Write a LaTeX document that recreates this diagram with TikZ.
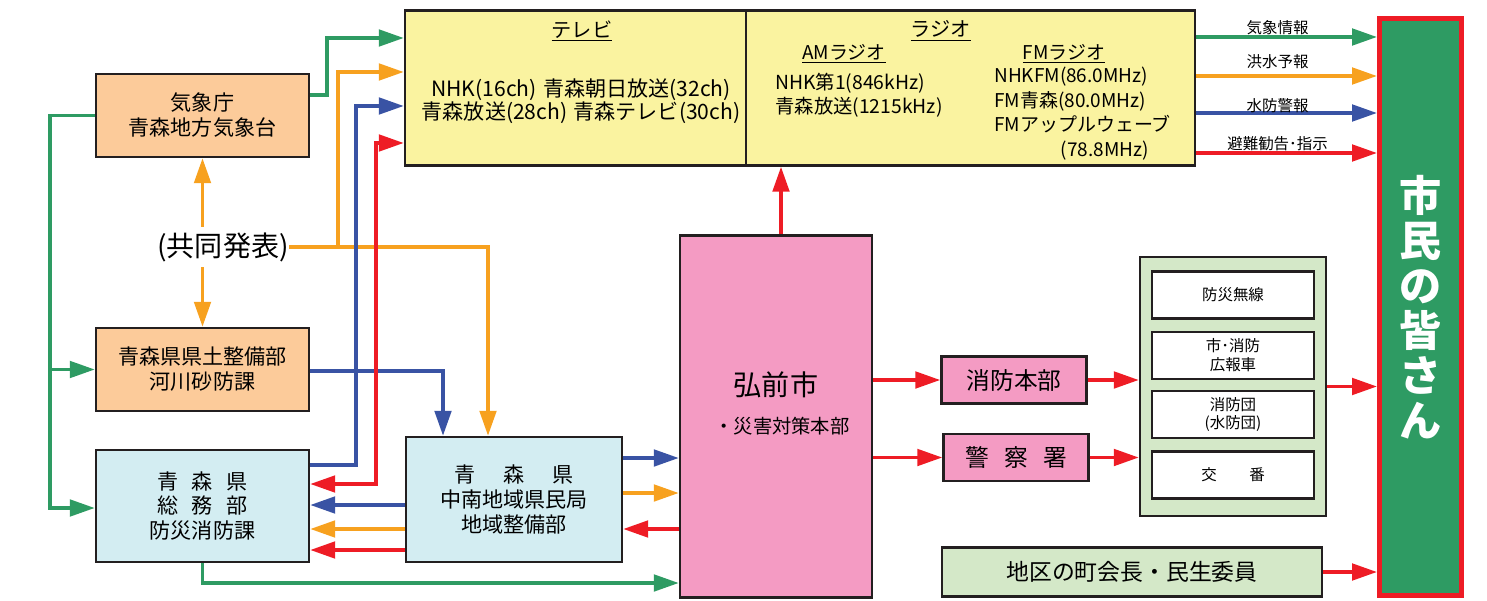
\documentclass[tikz,border=0pt]{standalone}
\usepackage{fontspec}
\setmainfont{Noto Sans CJK JP}
\usepackage{tikz}
\usetikzlibrary{arrows.meta}

\definecolor{kgreen}{HTML}{2E9B63}
\definecolor{korange}{HTML}{F7A11F}
\definecolor{kblue}{HTML}{3953A4}
\definecolor{kred}{HTML}{EE1C25}
\definecolor{boxline}{HTML}{231F20}
\definecolor{peach}{HTML}{FCCB9A}
\definecolor{lblue}{HTML}{D3EDF2}
\definecolor{pink}{HTML}{F49BC3}
\definecolor{tvyellow}{HTML}{FAF3A0}
\definecolor{lgreen}{HTML}{D4E8C8}

\newcommand{\pxfont}[2]{\fontsize{#1}{#2}\selectfont}

\begin{document}
\begin{tikzpicture}[x=0.02cm,y=-0.02cm,
    wh/.style 2 args={minimum width=#1*0.02cm, minimum height=#2*0.02cm},
    box/.style={draw=boxline, line width=1.4pt, inner sep=0pt, align=center},
    txt/.style={inner sep=0pt},
    headed/.style={-{Triangle[length=0.5cm,width=0.33cm]}},
    twoheaded/.style={{Triangle[length=0.5cm,width=0.33cm]}-{Triangle[length=0.5cm,width=0.33cm]}},
    gline/.style={draw=kgreen, line width=2pt},
    oline/.style={draw=korange, line width=2pt},
    bline/.style={draw=kblue, line width=2pt},
    rline/.style={draw=kred, line width=2pt},
    infolabel/.style={above, inner sep=0pt, pos=0.45, font=\pxfont{8.8pt}{10pt}}]
    \useasboundingbox (0,0) rectangle (1487,601);

    % media
    \node[box, fill=tvyellow, wh={341}{155}] (tv) at (575.5,88) {};
    \node[box, fill=tvyellow, wh={449}{155}] (radio) at (970.5,88) {};
    \node[txt, font=\pxfont{11.5pt}{12pt}] (tvtitle) at (582,31) {\underline{テレビ}};
    \node[txt, align=center, font=\pxfont{12pt}{13.1pt}] (tvlist) at (581,101.5)
        {NHK(16ch)\hspace{0.3em}青森朝日放送(32ch)\\青森放送(28ch)\hspace{0.3em}青森テレビ(30ch)};
    \node[txt, font=\pxfont{11.5pt}{12pt}] (radiotitle) at (941,31) {\underline{ラジオ}};
    \node[txt, font=\pxfont{10.8pt}{12pt}] (amtitle) at (844,54) {\underline{AMラジオ}};
    \node[txt, font=\pxfont{10.8pt}{12pt}] (fmtitle) at (1064,54) {\underline{FMラジオ}};
    \node[txt, align=left, anchor=west, font=\pxfont{11pt}{13.7pt}] (amlist) at (775,95)
        {NHK第1(846kHz)\\青森放送(1215kHz)};
    \node[txt, align=left, anchor=west, font=\pxfont{10.8pt}{13.9pt}] (fmlist) at (994,113.5)
        {NHKFM(86.0MHz)\\FM青森(80.0MHz)\\FMアップルウェーブ\\\hspace*{3.5em}(78.8MHz)};

    % prefecture
    \node[box, fill=peach, wh={213}{83}, font=\pxfont{12pt}{14.2pt}] (kishou) at (202.5,115.5)
        {気象庁\\青森地方気象台};
    \node[txt, inner ysep=3pt, font=\pxfont{16pt}{18pt}] (kyoudou) at (223,247) {(共同発表)};
    \node[box, fill=peach, wh={213}{83}, font=\pxfont{12pt}{14.2pt}] (kendo) at (202.5,369.5)
        {青森県県土整備部\\河川砂防課};
    \node[box, fill=lblue, wh={213}{112}, font=\pxfont{12pt}{13.7pt}] (soumu) at (202.5,506)
        {青\hspace{0.65em}森\hspace{0.65em}県\\総\hspace{0.65em}務\hspace{0.65em}部\\防災消防課};
    \node[box, fill=lblue, wh={216}{125}, font=\pxfont{12pt}{14pt}] (chunan) at (514,499.5)
        {青\hspace{1.33em}森\hspace{1.33em}県\\中南地域県民局\\地域整備部};

    % city
    \node[box, fill=pink, wh={192}{362}] (hirosaki) at (776,416.5) {};
    \node[txt, font=\pxfont{16pt}{18pt}] (hirotitle) at ([yshift=0.64cm]hirosaki.center) {弘前市};
    \node[txt, font=\pxfont{11pt}{13pt}] (hirosub) at ([xshift=0.12cm,yshift=-0.2cm]hirosaki.center) {・災害対策本部};
    \node[box, fill=pink, wh={145}{47}, font=\pxfont{13.5pt}{15pt}] (shoubou) at (1014,380) {消防本部};
    \node[box, fill=pink, wh={145}{47}, font=\pxfont{13.5pt}{15pt}] (keisatsu) at (1016,457.5)
        {警\hspace{0.65em}察\hspace{0.65em}署};

    % local channels
    \node[box, fill=lgreen, wh={186}{259}] (group) at (1233,386.5) {};
    \node[box, fill=white, wh={162}{47}, font=\pxfont{8.8pt}{10.8pt}] (musen) at (1233,295) {防災無線};
    \node[box, fill=white, wh={162}{47}, font=\pxfont{8.8pt}{10.8pt}] (kouhou) at (1233,355.5) {市･消防\\広報車};
    \node[box, fill=white, wh={162}{47}, font=\pxfont{8.8pt}{10.8pt}] (shoubouden) at (1233,414.5) {消防団\\(水防団)};
    \node[box, fill=white, wh={162}{47}, font=\pxfont{8.8pt}{10.8pt}] (kouban) at (1233,475) {交\hspace{2.1em}番};
    \node[box, fill=lgreen, wh={380}{49}, font=\pxfont{13pt}{15pt}] (chiku) at (1132,572) {地区の町会長・民生委員};

    \node[box, draw=kred, line width=2.85pt, fill=kgreen, wh={82}{577}, text=white,
        font=\pxfont{24pt}{25.6pt}\bfseries] (shimin) at (1420.5,307) {市\\民\\の\\皆\\さ\\ん};

    % green
    \draw[gline, headed] (kishou.east |- 0,95) -- (327,95) |- (tv.west |- 0,38);
    \draw[gline, headed] (kishou.west) -- (50,115.5) |- (soumu.west |- 0,508);
    \draw[gline, headed] (50,369.5) -- (kendo.west);
    \draw[gline, headed] (soumu.south) |- (hirosaki.west |- 0,583);
    \draw[gline, headed] (radio.east |- 0,37) -- node[infolabel] {気象情報} (shimin.west |- 0,37);

    % orange
    \draw[oline, headed] (kyoudou.east) -| (chunan.north -| 488,0);
    \draw[oline, headed] (338,247) |- (tv.west |- 0,72);
    \draw[oline, headed] (kishou.south |- kyoudou.north) -- (kishou.south);
    \draw[oline, headed] (kendo.north |- kyoudou.south) -- (kendo.north);
    \draw[oline, headed] (chunan.east |- 0,493) -- (hirosaki.west |- 0,493);
    \draw[oline, headed] (chunan.west |- 0,529) -- (soumu.east |- 0,529);
    \draw[oline, headed] (radio.east |- 0,76) -- node[infolabel, yshift=0.1cm] {洪水予報} (shimin.west |- 0,76);

    % blue
    \draw[bline, headed] (kendo.east |- 0,371) -| (chunan.north -| 443,0);
    \draw[bline, headed] (soumu.east |- 0,465) -- (356,465) |- (tv.west |- 0,106);
    \draw[bline, headed] (chunan.west |- 0,505) -- (soumu.east |- 0,505);
    \draw[bline, headed] (chunan.east |- 0,458) -- (hirosaki.west |- 0,458);
    \draw[bline, headed] (radio.east |- 0,113) -- node[infolabel, yshift=-0.04cm] {水防警報} (shimin.west |- 0,113);

    % red
    \draw[rline, headed] (hirosaki.north -| 781,0) -- (radio.south -| 781,0);
    \draw[rline, twoheaded] (tv.west |- 0,143) -- (376,143) |- (soumu.east |- 0,484);
    \draw[rline, headed] (chunan.west |- 0,550) -- (soumu.east |- 0,550);
    \draw[rline, headed] (hirosaki.west |- 0,529) -- (chunan.east |- 0,529);
    \draw[rline, headed] (hirosaki.east |- shoubou) -- (shoubou.west);
    \draw[rline, headed] (hirosaki.east |- keisatsu) -- (keisatsu.west);
    \draw[rline, headed] (shoubou.east) -- (group.west |- shoubou);
    \draw[rline, headed] (keisatsu.east) -- (group.west |- keisatsu);
    \draw[rline, headed] (group.east) -- (shimin.west |- group.east);
    \draw[rline, headed] (chiku.east) -- (shimin.west |- chiku.east);
    \draw[rline, headed] (radio.east |- 0,153) -- node[infolabel] {避難勧告･指示} (shimin.west |- 0,153);
\end{tikzpicture}
\end{document}
